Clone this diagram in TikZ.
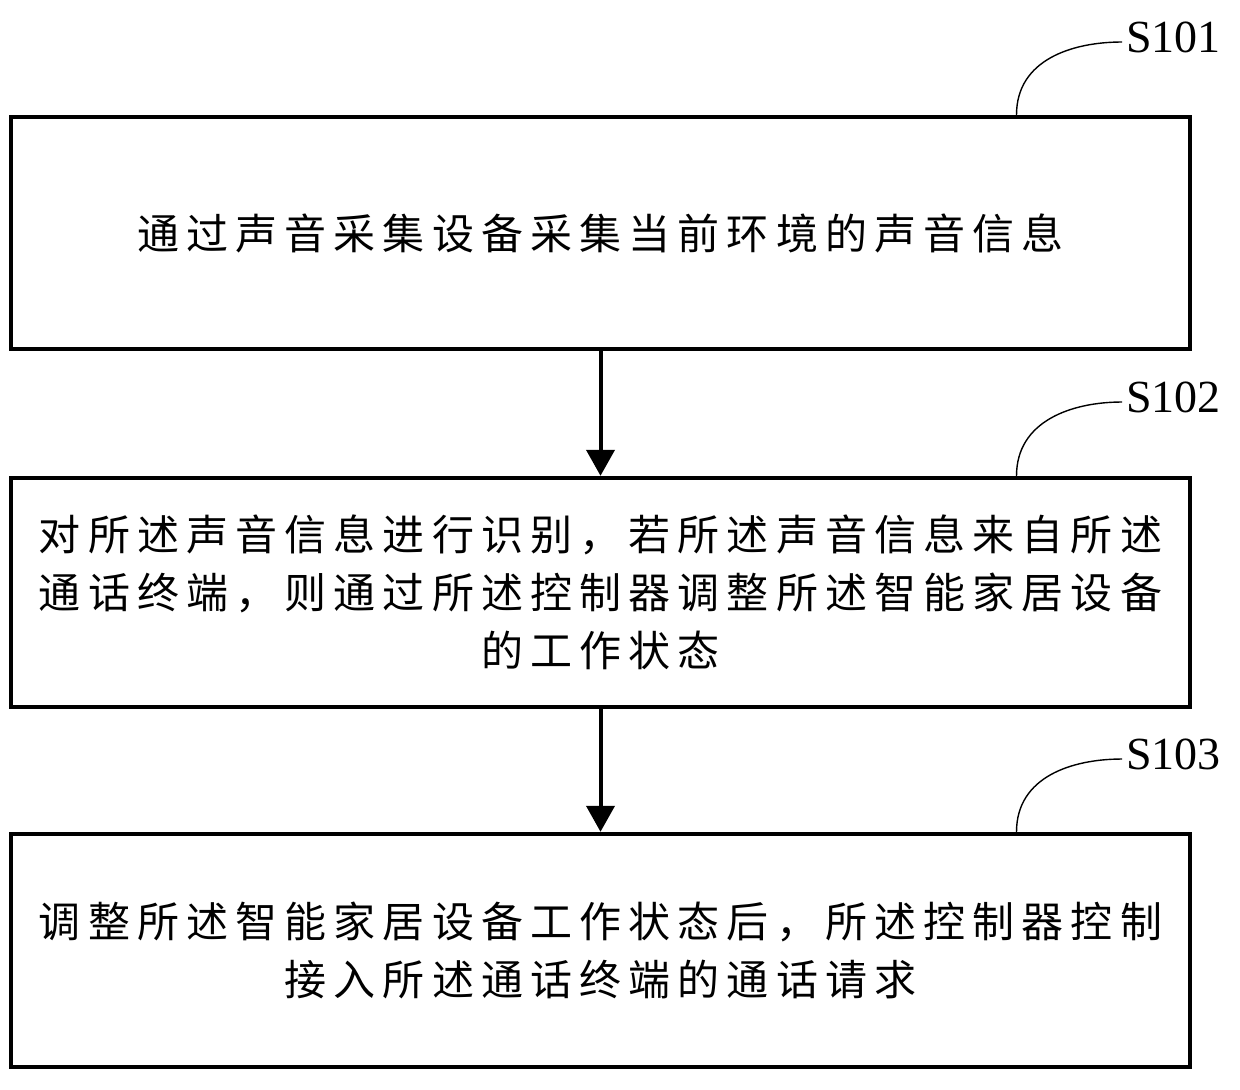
\documentclass[tikz,border=0pt]{standalone}
\usepackage{fontspec}
\setmainfont{Liberation Serif}
\newfontfamily\cjk[LetterSpace=17]{Noto Sans CJK SC}
\usetikzlibrary{arrows.meta,positioning}
\tikzset{
  stepbox/.style = {draw, line width=2.2pt, minimum width=589.5pt, align=center,
                    font=\cjk\fontsize{21pt}{29pt}\selectfont, inner sep=0pt},
  steptag/.style = {anchor=west, inner sep=2pt, font=\fontsize{23pt}{26pt}\selectfont},
  tagline/.style = {line width=0.7pt},
  flow/.style    = {-{Triangle[width=14pt,length=13pt]}, line width=2pt}
}
\begin{document}
\begin{tikzpicture}[x=0.5pt, y=-0.5pt]
  \useasboundingbox (0,0) rectangle (1240,1089);

  % the three steps
  \node[stepbox, minimum height=116pt] (b1) at (600.5,233)
    {通过声音采集设备采集当前环境的声音信息};
  \node[stepbox, minimum height=114.5pt] (b2) at (600.5,592.5)
    {对所述声音信息进行识别，若所述声音信息来自所述\\
     通话终端，则通过所述控制器调整所述智能家居设备\\
     的工作状态};
  \node[stepbox, minimum height=116.5pt] (b3) at (600.5,950.5)
    {调整所述智能家居设备工作状态后，所述控制器控制\\
     接入所述通话终端的通话请求};

  % step numbers
  \node[steptag] (t1) at (1122,37) {S101};
  \node[steptag] (t2) at (1122,397) {S102};
  \node[steptag] (t3) at (1122,754) {S103};

  % hooks from the boxes to their numbers
  \foreach \n in {1,2,3}
    \draw[tagline] ([xshift=208pt]b\n.north) .. controls +(0,-55) and +(-50,0) .. ([yshift=-2.5pt]t\n.west);

  % arrows between the steps
  \draw[flow] (b1) -- (b2);
  \draw[flow] (b2) -- (b3);
\end{tikzpicture}
\end{document}
